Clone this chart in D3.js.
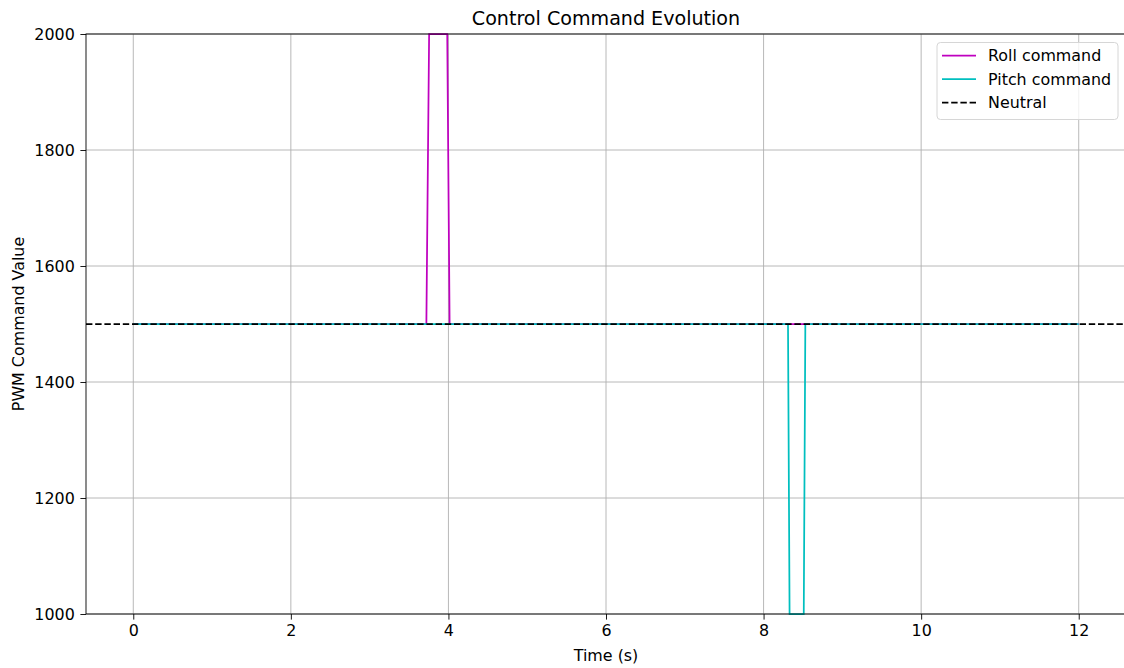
<!DOCTYPE html>
<html>
<head>
<meta charset="utf-8">
<script src="https://cdn.jsdelivr.net/npm/d3@7"></script>
<style>
  body { margin: 0; background: #fff; }
  svg { display: block; font-family: "DejaVu Sans", sans-serif; }
</style>
</head>
<body>
<svg id="chart" width="1124" height="668"></svg>
<script>
// Roll command samples (time in s, PWM value).
const rollTimes = [0, 3.72, 3.755, 3.985, 4.015, 12];
const rollValues = [1500, 1500, 2000, 2000, 1500, 1500];

// Pitch command samples.
const pitchTimes = [0, 8.31, 8.33, 8.51, 8.53, 12];
const pitchValues = [1500, 1500, 1000, 1000, 1500, 1500];

const neutralValue = 1500;
const xTicks = [0, 2, 4, 6, 8, 10, 12];
const yTicks = [1000, 1200, 1400, 1600, 1800, 2000];

const legendLabels = ["Roll command", "Pitch command", "Neutral"];
const legendColors = ["#bf00bf", "#00bfbf", "#000000"];

// Plot box.
const plotLeft = 86, plotRight = 1126, plotTop = 34, plotBottom = 614;
const dash = "6.4,2.8";

const svg = d3.select("#chart");

const x = d3.scaleLinear().domain([-0.6, 12.6]).range([plotLeft, plotRight]);
const y = d3.scaleLinear().domain([1000, 2000]).range([plotBottom, plotTop]);

// Grid lines.
svg.append("g")
  .selectAll("line")
  .data(xTicks)
  .enter()
  .append("line")
  .attr("x1", d => x(d)).attr("x2", d => x(d))
  .attr("y1", plotTop).attr("y2", plotBottom)
  .attr("stroke", "#b0b0b0").attr("stroke-width", 0.9);

svg.append("g")
  .selectAll("line")
  .data(yTicks)
  .enter()
  .append("line")
  .attr("x1", plotLeft).attr("x2", plotRight)
  .attr("y1", d => y(d)).attr("y2", d => y(d))
  .attr("stroke", "#b0b0b0").attr("stroke-width", 0.9);

const line = d3.line().x(d => x(d[0])).y(d => y(d[1]));

// Roll command line.
svg.append("path")
  .datum(d3.zip(rollTimes, rollValues))
  .attr("d", line)
  .attr("fill", "none")
  .attr("stroke", legendColors[0])
  .attr("stroke-width", 1.75);

// Pitch command line.
svg.append("path")
  .datum(d3.zip(pitchTimes, pitchValues))
  .attr("d", line)
  .attr("fill", "none")
  .attr("stroke", legendColors[1])
  .attr("stroke-width", 1.75);

// Neutral dashed line across the whole axes.
svg.append("line")
  .attr("x1", plotLeft).attr("x2", plotRight)
  .attr("y1", y(neutralValue)).attr("y2", y(neutralValue))
  .attr("stroke", "#000")
  .attr("stroke-width", 1.75)
  .attr("stroke-dasharray", dash);

// Axes.
const xAxis = d3.axisBottom(x).tickValues(xTicks).tickFormat(d3.format("d")).tickSize(5.6).tickPadding(5);
const yAxis = d3.axisLeft(y).tickValues(yTicks).tickFormat(d3.format("d")).tickSize(5.6).tickPadding(5.6);

const gx = svg.append("g").attr("transform", `translate(0,${plotBottom})`).call(xAxis);
const gy = svg.append("g").attr("transform", `translate(${plotLeft},0)`).call(yAxis);

[gx, gy].forEach(g => {
  g.select(".domain").remove();
  g.selectAll(".tick line").attr("stroke", "#000").attr("stroke-width", 0.9);
  g.selectAll(".tick text")
    .attr("fill", "#000")
    .style("font-size", "15.9px")
    .style("font-family", "DejaVu Sans");
});

// Spines (left, top, bottom; right is just off the canvas).
svg.append("rect")
  .attr("x", plotLeft).attr("y", plotTop)
  .attr("width", plotRight - plotLeft).attr("height", plotBottom - plotTop)
  .attr("fill", "none")
  .attr("stroke", "#000")
  .attr("stroke-width", 0.9);

// Title and axis labels.
svg.append("text")
  .attr("x", (plotLeft + plotRight) / 2).attr("y", 24.5)
  .attr("text-anchor", "middle")
  .style("font-size", "19.1px")
  .text("Control Command Evolution");

svg.append("text")
  .attr("x", (plotLeft + plotRight) / 2).attr("y", 661)
  .attr("text-anchor", "middle")
  .style("font-size", "15.9px")
  .text("Time (s)");

svg.append("text")
  .attr("transform", `translate(24,${(plotTop + plotBottom) / 2}) rotate(-90)`)
  .attr("text-anchor", "middle")
  .style("font-size", "15.9px")
  .text("PWM Command Value");

// Legend.
const legend = svg.append("g");
legend.append("rect")
  .attr("x", 937).attr("y", 42.5)
  .attr("width", 181).attr("height", 77)
  .attr("rx", 3.5)
  .attr("fill", "#fff").attr("fill-opacity", 0.8)
  .attr("stroke", "#d6d6d6").attr("stroke-width", 1);

legendLabels.forEach((label, i) => {
  const ly = 55.5 + i * 23.5;
  legend.append("line")
    .attr("x1", 942).attr("x2", 976)
    .attr("y1", ly).attr("y2", ly)
    .attr("stroke", legendColors[i])
    .attr("stroke-width", 1.75)
    .attr("stroke-dasharray", i === 2 ? dash : null);
  legend.append("text")
    .attr("x", 988).attr("y", ly + 5.5)
    .style("font-size", "15.9px")
    .text(label);
});
</script>
</body>
</html>
